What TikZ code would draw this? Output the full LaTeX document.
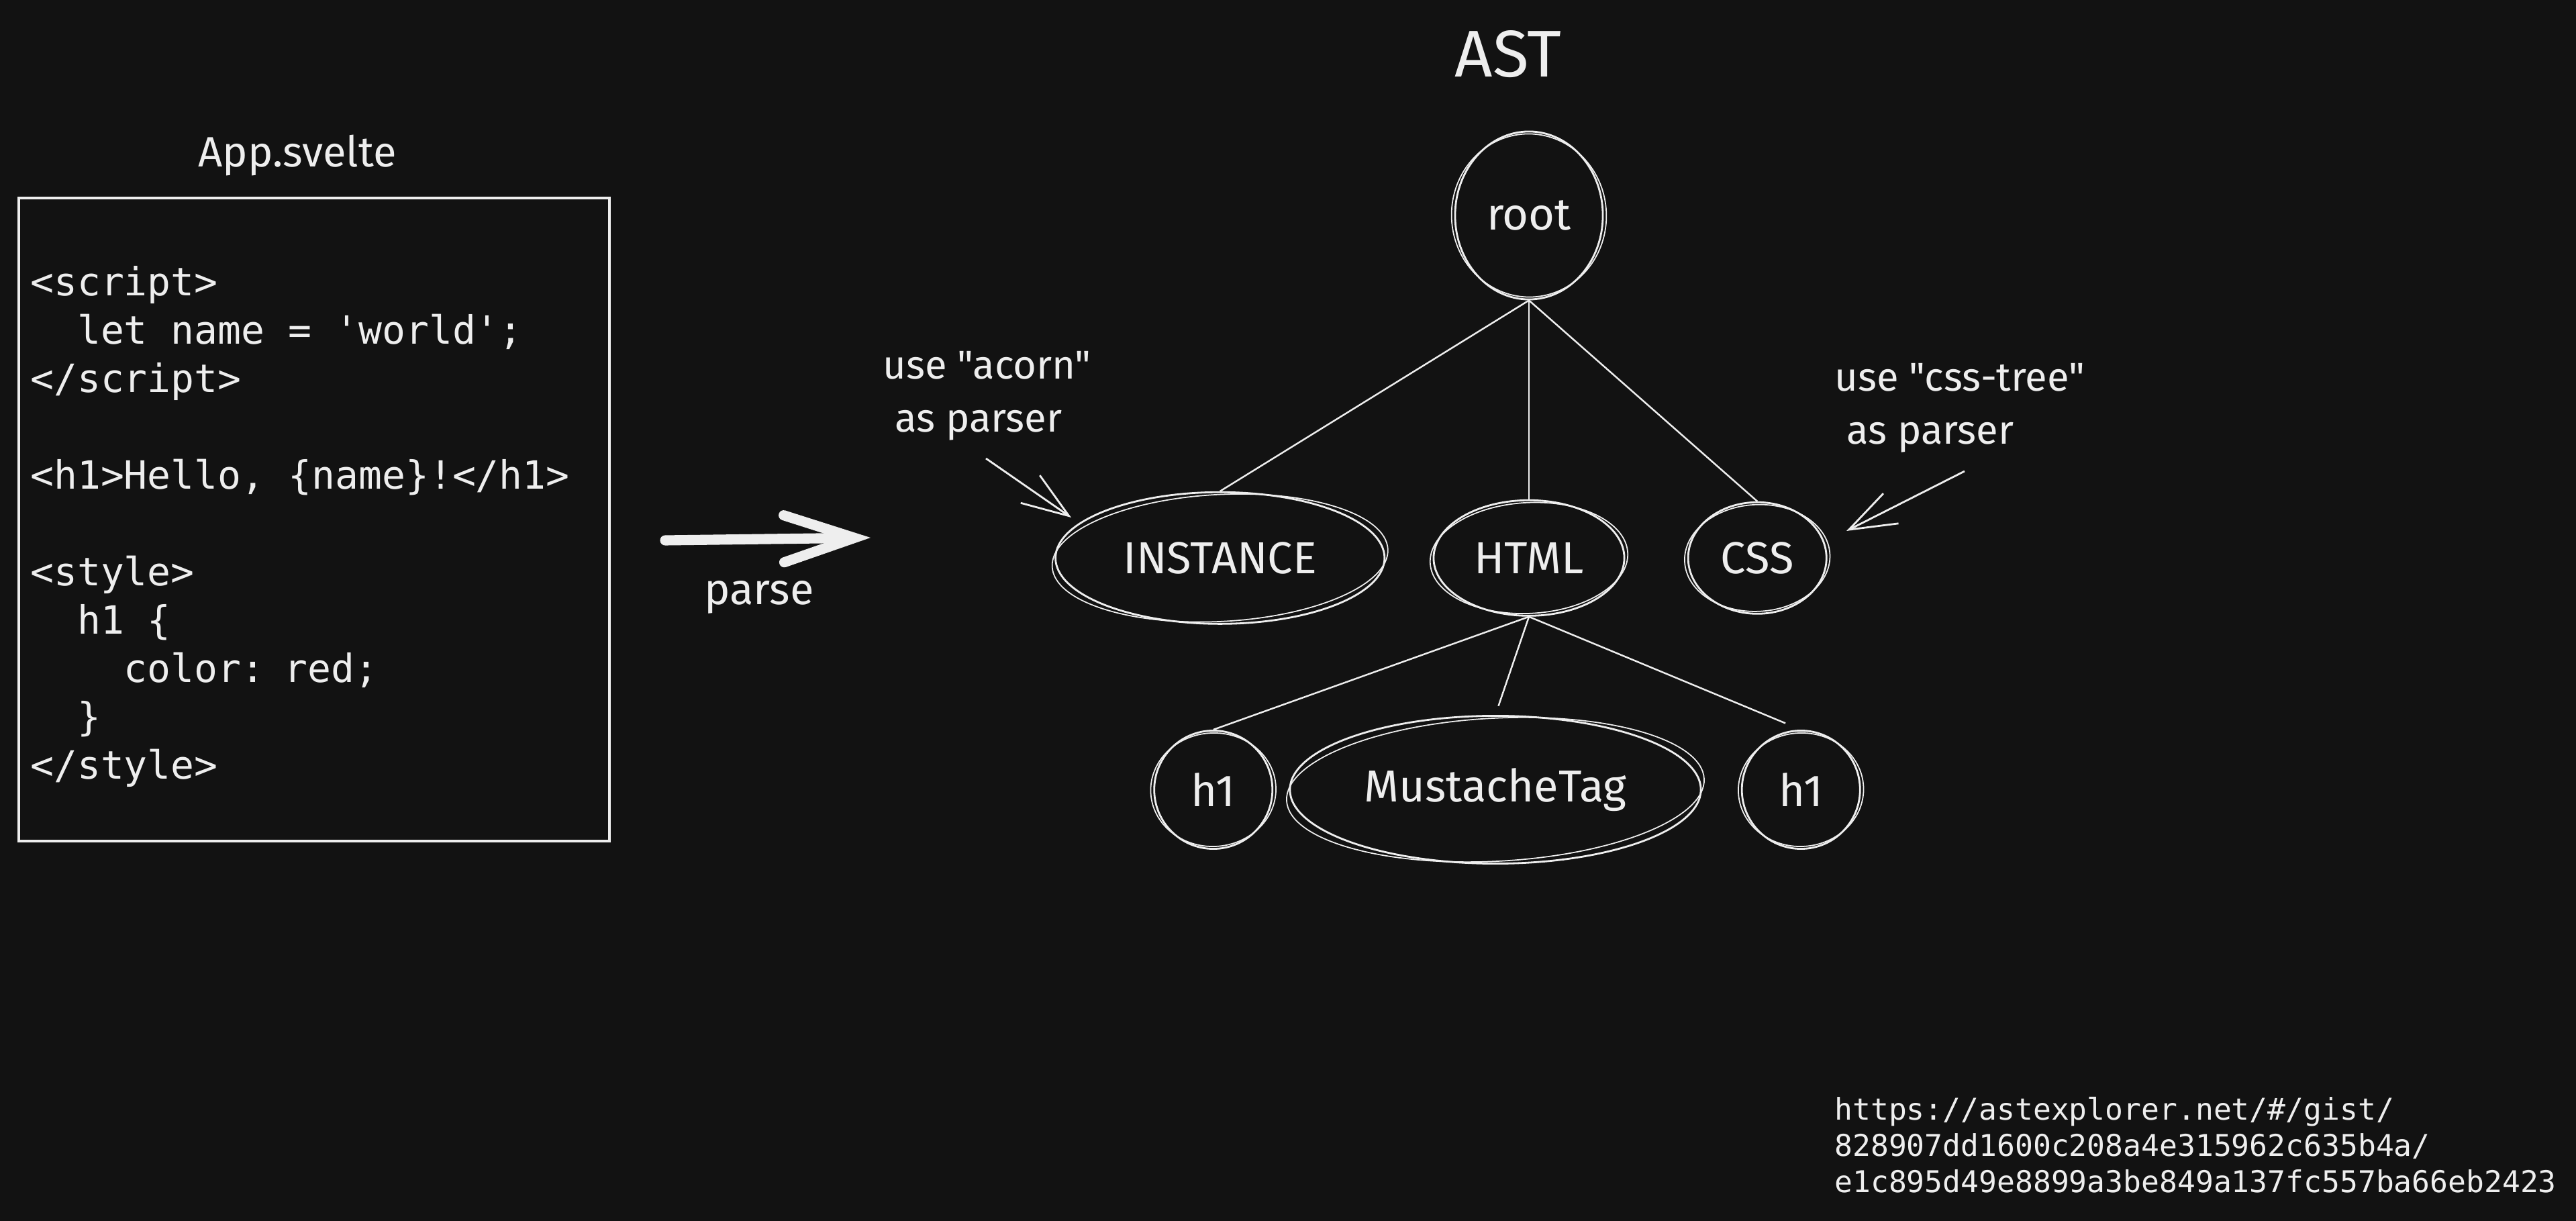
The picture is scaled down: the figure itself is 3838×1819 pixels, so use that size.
\documentclass[tikz,border=0pt]{standalone}
\usepackage{fontspec}
\usetikzlibrary{positioning,shapes.geometric,arrows.meta}
\newfontfamily\handfont{Fira Sans}[Ligatures=TeXOff]
\newfontfamily\codefont{DejaVu Sans Mono}[Ligatures=TeXOff]
\definecolor{bg}{HTML}{121212}
\definecolor{ink}{HTML}{EEEEEE}

\begin{document}
\begin{tikzpicture}[x=0.01cm, y=-0.01cm, on grid, ink, line width=0.8pt,
	astnode/.style={ellipse, draw, inner sep=0pt, font=\handfont\fontsize{19}{23}\selectfont},
	note/.style={align=left, anchor=west, inner sep=0pt, font=\handfont\fontsize{17}{22.4}\selectfont},
	branch/.style={line width=0.7pt},
	sketch/.style={line width=0.5pt},
	hint/.style={-{Straight Barb[length=0.7cm,width=0.5cm]}, line width=0.8pt}]
	\useasboundingbox (0,0) rectangle (3838,1819);
	\fill[bg] (0,0) rectangle (3838,1819);
	% source file
	\node[font=\handfont\fontsize{18}{22}\selectfont] (app) at (443,232) {App.svelte};
	\node[draw, line width=1pt, text width=8.45cm, inner xsep=0.17cm, inner ysep=0pt, minimum height=9.57cm, align=left, font=\codefont\fontsize{16.5}{20.5}\selectfont] (code) at (468,774) {\spaceskip=0.602em\relax\rule{0pt}{18.5pt}<script>\\
\phantom{xx}let name = \char39 world\char39;\\
</script>\\
\mbox{}\\
<h1>Hello, \{name\}!</h1>\\
\mbox{}\\
<style>\\
\phantom{xx}h1 \{\\
\phantom{xxxx}color: red;\\
\phantom{xx}\}\\
</style>};
	% parse step
	\coordinate (parsefrom) at (991,805);
	\coordinate (parseto) at (1297,801);
	\draw[line width=4.3pt, line cap=round, -{Straight Barb[length=1.05cm, width=0.7cm, line cap=round]}] (parsefrom) -- (parseto);
	\node[font=\handfont\fontsize{18.5}{22}\selectfont] (parse) at (1131,890) {parse};
	% tree
	\node[font=\handfont\fontsize{28}{32}\selectfont] (ast) at (2247,81) {AST};
	\node[astnode, minimum width=2.2cm, minimum height=2.5cm] (root) at (2278,321) {root};
	\node[astnode, minimum width=2.84cm, minimum height=1.72cm] (html) [below=5.1cm of root] {HTML};
	\node[astnode, minimum width=4.9cm, minimum height=1.96cm] (inst) [left=4.6cm of html] {INSTANCE};
	\node[astnode, minimum width=2.06cm, minimum height=1.66cm] (css) [right=3.4cm of html] {CSS};
	\node[astnode, minimum width=6.12cm, minimum height=2.2cm] (must) [below=3.45cm of html, xshift=-0.5cm] {MustacheTag};
	\node[astnode, minimum width=1.76cm, minimum height=1.76cm] (h1a) [left=4.2cm of must] {h1};
	\node[astnode, minimum width=1.76cm, minimum height=1.76cm] (h1b) [right=4.55cm of must] {h1};
	% second hand-drawn stroke round each node
	\foreach \n/\w/\h in {root/2.2/2.5, html/2.84/1.72, inst/4.9/1.96, css/2.06/1.66, must/6.12/2.2, h1a/1.76/1.76, h1b/1.76/1.76}
		\draw[sketch, rotate around={3:(\n.center)}] (\n.center) ellipse ({\w*0.5cm+1.5pt} and {\h*0.5cm-1pt});
	\draw[branch] (root.south) -- (inst.north);
	\draw[branch] (root.south) -- (html.north);
	\draw[branch] (root.south) -- (css.north);
	\draw[branch] (html.south) -- (h1a.north);
	\draw[branch, shorten >=0.14cm] (html.south) -- (must.north);
	\draw[branch, shorten >=0.25cm] (html.south) -- (h1b.north);
	% parser notes
	\node[note] (acorn) at (1314,590) {use "acorn"\\\hspace*{0.3em}as parser};
	\node[note] (csstree) at (2732,608) {use "css-tree"\\\hspace*{0.3em}as parser};
	\coordinate (acornfrom) at (1469,683);
	\coordinate (acornto) at (1596,771);
	\coordinate (cssfrom) at (2927,702);
	\coordinate (cssto) at (2751,791);
	\draw[hint] (acornfrom) -- (acornto);
	\draw[hint] (cssfrom) -- (cssto);
	% link
	\node[anchor=west, align=left, inner sep=0pt, font=\codefont\fontsize{12.7}{15.4}\selectfont] (gist) at (2732,1706) {https://astexplorer.net/\#/gist/\\828907dd1600c208a4e315962c635b4a/\\e1c895d49e8899a3be849a137fc557ba66eb2423};
\end{tikzpicture}
\end{document}
